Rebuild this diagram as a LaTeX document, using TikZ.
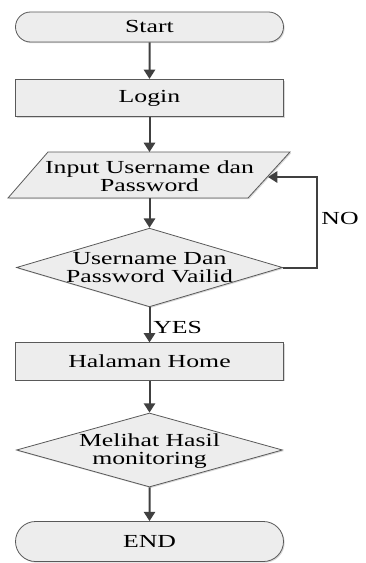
\documentclass[tikz,border=0pt]{standalone}
\usepackage{fontspec}
\setmainfont[FakeStretch=1.4]{Liberation Serif}
\usetikzlibrary{positioning,arrows.meta,shapes.misc,shapes.geometric,shadows}
\tikzset{
  flow/.style={-{Triangle[length=7pt,width=8.5pt]},line width=1.5pt,black!75},
  blk/.style={draw=black!65,line width=0.6pt,fill=black!7,
    drop shadow={shadow xshift=0.9pt,shadow yshift=-0.9pt,fill=black!30}},
  lbl/.style={font=\fontsize{13.8}{13.6}\selectfont,align=center,inner sep=0pt},
  term/.style={blk,lbl,rounded rectangle,minimum width=201pt,minimum height=22.5pt},
  proc/.style={blk,lbl,rectangle,minimum width=201pt,minimum height=28pt},
  decide/.style={blk,diamond,minimum width=199.5pt,inner sep=0pt},
}

\begin{document}
\begin{tikzpicture}[x=0.75pt,y=-0.75pt]
  \useasboundingbox (0,0) rectangle (365,563);
  % main column
  \node[term] (start) at (149.5,27) {Start};
  \node[proc] (login) at (149.5,98) {Login};
  % input parallelogram
  \path[blk] (48,152) -- (290,152) -- (248,198) -- (8,198) -- cycle;
  \coordinate (intop) at (149.5,152);
  \coordinate (inbot) at (149.5,198);
  \coordinate (inright) at (268,177);
  \node[lbl] (input) at (149.5,176) {Input Username dan\\Password};
  \node[decide,minimum height=59pt] (valid) at (149.5,267.5) {};
  \node[lbl] (validtxt) at (149.5,268) {Username Dan\\Password Vailid};
  \node[proc] (home) at (149.5,361.5) {Halaman Home};
  \node[decide,minimum height=55.5pt] (hasil) at (149.5,450) {};
  \node[lbl] (hasiltxt) at (149.5,451) {Melihat Hasil\\monitoring};
  \node[term,minimum height=30pt] (end) at (149.5,541.5) {END};
  % arrows
  \draw[flow] (start) -- (login);
  \draw[flow] (login) -- (intop);
  \draw[flow] (inbot) -- (valid);
  \draw[flow] (valid) -- (home);
  \draw[flow] (home) -- (hasil);
  \draw[flow] (hasil) -- (end);
  % back to input when not valid
  \draw[flow] (valid.east) -- ++(34,0) |- (inright);
  \node[lbl] (no) at (340,218) {NO};
  \node[lbl,anchor=west] (yes) at (153,327) {YES};
\end{tikzpicture}
\end{document}
